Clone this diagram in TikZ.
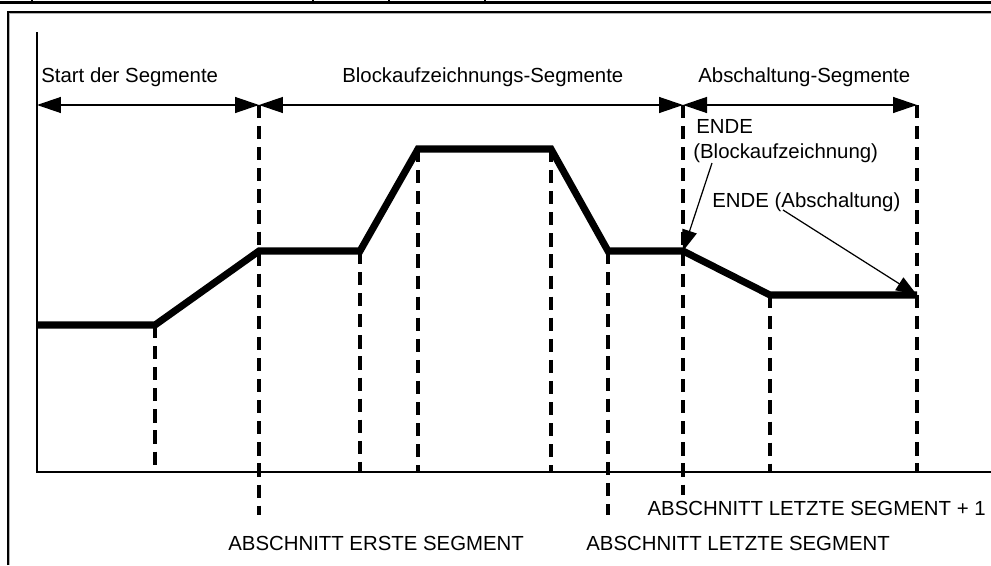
\documentclass[tikz,border=0pt]{standalone}
\usepackage{fontspec}
\setmainfont{Liberation Sans}
\usepackage{tikz}
\usetikzlibrary{
arrows.meta,
positioning
}

\tikzset{
  curve/.style={line width=4pt},
  guide/.style={line width=2pt, dash pattern=on 7.5pt off 4.5pt},
  dimline/.style={line width=0.75pt,
    {Triangle[length=0.48cm,width=0.32cm]}-{Triangle[length=0.48cm,width=0.32cm]}},
  callout/.style={line width=0.7pt, -{Triangle[length=0.42cm,width=0.3cm]}},
  lbl/.style={font=\fontsize{11.6}{14}\selectfont, inner sep=0pt, anchor=base west}
}

\begin{document}
\begin{tikzpicture}[x=0.02cm, y=-0.02cm]
\useasboundingbox (0,0) rectangle (991,565);

% Page rule and frame
\draw[line width=1.2pt] (0,2.5) -- (991,2.5);
\draw[line width=0.8pt] (32,0) -- (32,2.5);
\draw[line width=0.8pt] (313,0) -- (313,2.5);
\draw[line width=0.8pt] (389,0) -- (389,2.5);
\draw[line width=0.8pt] (485,0) -- (485,2.5);
\draw[gray!60, line width=0.6pt] (9.5,565) -- (9.5,13.5) -- (991,13.5);
\draw[line width=0.9pt] (8,565) -- (8,12) -- (991,12);

% Axes
\draw[line width=1pt] (37,32) -- (37,472) -- (991,472);

% Profile points
\coordinate (p0) at (37,325);
\coordinate (p1) at (155,325);
\coordinate (p2) at (259,251);
\coordinate (p3) at (360,251);
\coordinate (p4) at (418,149);
\coordinate (p5) at (551,149);
\coordinate (p6) at (608,251);
\coordinate (p7) at (683,251);
\coordinate (p8) at (770,295);
\coordinate (p9) at (917,295);

% Segment range points
\coordinate (d0) at (37,105);
\coordinate (d1) at (259,105);
\coordinate (d2) at (683,105);
\coordinate (d3) at (917,105);

% Dashed segment boundaries
\draw[guide] (p1) -- (155,472);
\draw[guide] (d1) -- (259,515);
\draw[guide] (p3) -- (360,472);
\draw[guide] (p4) -- (418,472);
\draw[guide] (p5) -- (551,472);
\draw[guide] (p6) -- (608,515);
\draw[guide] (d2) -- (683,495);
\draw[guide] (p8) -- (770,472);
\draw[guide] (d3) -- (917,472);

% Profile
\draw[curve] (p0) -- (p1) -- (p2) -- (p3) -- (p4) -- (p5) -- (p6) -- (p7) -- (p8) -- (p9);

% Segment ranges
\draw[dimline] (d0) -- (d1);
\draw[dimline] (d1) -- (d2);
\draw[dimline] (d2) -- (d3);

\node[lbl] (startseg) at (41,82) {Start der Segmente};
\node[lbl] (blockseg) at (342,82) {Blockaufzeichnungs-Segmente};
\node[lbl] (offseg) at (698,82) {Abschaltung-Segmente};

% End markers
\node[lbl] (endblock) at (696,133) {ENDE};
\node[lbl] (endblockb) at (693,158) {(Blockaufzeichnung)};
\node[lbl] (endoff) at (712,207) {ENDE (Abschaltung)};
\coordinate (c1) at (712,163);
\coordinate (c2) at (783,210);
\draw[callout] (c1) -- (p7);
\draw[callout] (c2) -- (p9);

% Section labels
\node[lbl] (firstsec) at (228,550) {ABSCHNITT ERSTE SEGMENT};
\node[lbl] (lastsec) at (586,550) {ABSCHNITT LETZTE SEGMENT};
\node[lbl, anchor=base east] (lastsecp) at (986,515) {ABSCHNITT LETZTE SEGMENT + 1};

\end{tikzpicture}
\end{document}
